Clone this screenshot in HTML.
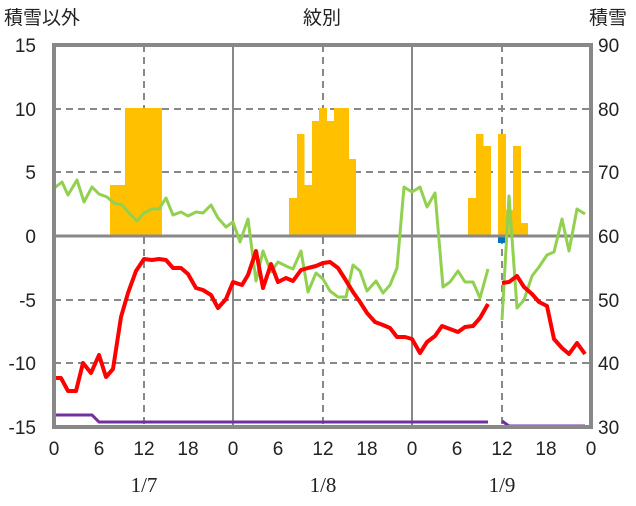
<!DOCTYPE html>
<html><head><meta charset="utf-8"><style>
body{margin:0;background:#fff}
svg text{font-family:"Liberation Sans","Noto Sans CJK JP",sans-serif;font-size:19px;fill:#222}
</style></head><body>
<svg width="636" height="501" viewBox="0 0 636 501" xmlns="http://www.w3.org/2000/svg">
<rect width="636" height="501" fill="#fff"/>
<g stroke="#888" stroke-width="2" stroke-dasharray="7,5">
<line x1="54" y1="109" x2="591" y2="109"/><line x1="54" y1="172" x2="591" y2="172"/>
<line x1="54" y1="300" x2="591" y2="300"/><line x1="54" y1="363" x2="591" y2="363"/>
<line x1="144" y1="45" x2="144" y2="427"/><line x1="323" y1="45" x2="323" y2="427"/><line x1="502" y1="45" x2="502" y2="427"/>
</g>
<g stroke="#888" stroke-width="2"><line x1="233" y1="45" x2="233" y2="427"/><line x1="412" y1="45" x2="412" y2="427"/></g>
<g fill="#FFC000">
<rect x="110" y="185" width="15" height="51"/><rect x="125" y="108" width="37" height="128"/>
<rect x="289" y="198" width="8" height="38"/><rect x="297" y="134" width="7.5" height="102"/><rect x="304" y="185" width="8" height="51"/>
<rect x="312" y="121" width="7.5" height="115"/><rect x="319" y="108" width="8" height="128"/><rect x="327" y="121" width="7.5" height="115"/>
<rect x="334" y="108" width="15" height="128"/><rect x="349" y="159" width="7" height="77"/>
<rect x="468" y="198" width="8" height="38"/><rect x="476" y="134" width="7.5" height="102"/><rect x="483" y="146" width="8" height="90"/>
<rect x="498" y="134" width="8" height="102"/><rect x="506" y="210" width="7.5" height="26"/><rect x="513" y="146" width="8" height="90"/><rect x="521" y="223" width="7" height="13"/>
</g>
<rect x="498" y="236" width="7" height="7" fill="#0070C0"/>
<line x1="54" y1="236" x2="591" y2="236" stroke="#888" stroke-width="3"/>
<g fill="none" stroke="#92D050" stroke-width="3" stroke-linejoin="round">
<polyline points="53,189 62,182 68,195 77,180 84,202 92,187 99,194 107,197 114,203 122,205 129,213 137,221 144,213 152,209 159,209 166,198 173,215 181,212 188,216 196,212 203,213 211,205 218,218 226,227 233,222 240,242 248,219 256,281 263,251 271,272 278,262 286,266 293,269 301,251 308,292 316,273 323,279 330,291 338,297 346,297 353,265 360,271 367,291 376,281 383,293 390,285 397,268 404,187 412,192 420,187 427,207 435,193 443,287 450,282 458,271 465,282 473,282 480,298 488,269"/>
<polyline points="502,320 509,196 517,308 524,300 532,276 539,267 547,255 554,252 562,219 569,251 577,209 585,214"/>
</g>
<g fill="none" stroke="#FF0000" stroke-width="4" stroke-linejoin="round">
<polyline points="53,378 61,378 68,391 76,391 83,363 91,373 99,355 106,377 113,369 121,317 128,293 136,271 144,259 152,260 159,259 166,260 173,268 181,268 188,274 196,288 203,290 211,295 218,308 226,299 233,282 242,285 248,275 256,251 263,288 271,264 278,282 286,278 293,281 301,270 308,268 316,266 323,263 330,262 338,268 345,279 353,292 360,302 367,313 375,322 383,325 390,328 397,337 405,337 412,339 420,353 427,342 435,336 442,326 450,329 458,332 465,327 473,326 480,318 488,304"/>
<polyline points="502,283 509,282 517,276 524,287 532,294 539,302 547,306 554,339 562,348 569,354 577,343 585,354"/>
</g>
<g fill="none" stroke="#7030A0" stroke-width="3">
<polyline points="53,415 92,415 99,422 488,422"/>
<polyline points="502,421 509,426 585,426"/>
</g>
<rect x="54" y="45" width="537" height="382" fill="none" stroke="#888" stroke-width="4"/>
<text x="4" y="24">積雪以外</text><text x="322" y="24" text-anchor="middle">紋別</text><text x="589" y="24">積雪</text>
<g text-anchor="end">
<text x="36" y="52">15</text><text x="36" y="116">10</text><text x="36" y="179">5</text><text x="36" y="243">0</text>
<text x="36" y="307">-5</text><text x="36" y="370">-10</text><text x="36" y="434">-15</text>
</g>
<g>
<text x="598" y="52">90</text><text x="598" y="116">80</text><text x="598" y="179">70</text><text x="598" y="243">60</text>
<text x="598" y="307">50</text><text x="598" y="370">40</text><text x="598" y="434">30</text>
</g>
<g text-anchor="middle">
<text x="54" y="455">0</text><text x="99" y="455">6</text><text x="144" y="455">12</text><text x="188" y="455">18</text>
<text x="233" y="455">0</text><text x="278" y="455">6</text><text x="323" y="455">12</text><text x="367" y="455">18</text>
<text x="412" y="455">0</text><text x="457" y="455">6</text><text x="502" y="455">12</text><text x="546" y="455">18</text><text x="591" y="455">0</text>
<text x="144" y="492" style="font-family:'Liberation Serif',serif;font-size:21px">1/7</text><text x="323" y="492" style="font-family:'Liberation Serif',serif;font-size:21px">1/8</text><text x="502" y="492" style="font-family:'Liberation Serif',serif;font-size:21px">1/9</text>
</g>
</svg>
</body></html>
